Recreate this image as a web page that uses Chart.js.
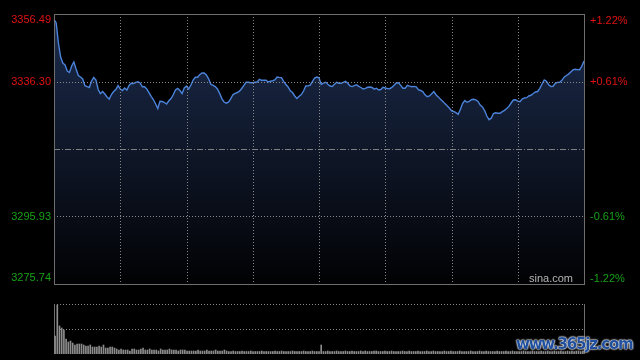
<!DOCTYPE html>
<html>
<head>
<meta charset="utf-8">
<script src="https://cdn.jsdelivr.net/npm/chart.js@4/dist/chart.umd.min.js"></script>
<style>
  html,body{margin:0;padding:0;background:#000;width:640px;height:360px;overflow:hidden;}
  #priceCv{position:absolute;left:0;top:0;}
  #volCv{position:absolute;left:0;top:290px;}
  #wm{position:absolute;left:516px;top:335px;font:bold 15px "DejaVu Sans",sans-serif;color:#1f4f9e;
      letter-spacing:-1.2px;text-shadow:0 0 2px #fff,0 0 2px #fff,0 0 1px #ddd;white-space:nowrap;}
</style>
</head>
<body>
<canvas id="priceCv" width="640" height="290"></canvas>
<canvas id="volCv" width="640" height="70"></canvas>
<div id="wm">www.365jz.com</div>
<script>
// ---- data ----
const preClose = 3316.115;
const yMin = 3275.74;
const yMax = 3356.49;
const leftTickValues = [3356.49, 3336.30, 3295.93, 3275.74];
const leftTickLabels = ["3356.49", "3336.30", "3295.93", "3275.74"];
const rightTickLabels = ["+1.22%", "+0.61%", "-0.61%", "-1.22%"];
const tickColors = ["#e01212", "#e01212", "#18a018", "#18a018"];
const gridMinuteIdx = [30, 60, 90, 120, 150, 180, 210];

const prices = [
3354.85,3353.80,3347.82,3343.63,3341.84,3341.24,3339.44,3339.00,3340.94,3342.14,
3340.04,3338.10,3337.65,3337.05,3335.05,3334.75,3334.51,3336.45,3337.50,3336.75,
3333.91,3332.71,3333.31,3332.56,3331.67,3331.07,3332.41,3333.31,3333.91,3335.05,
3334.06,3333.61,3334.36,3333.76,3335.11,3335.76,3335.70,3336.06,3336.24,3335.85,
3334.72,3334.72,3334.06,3332.98,3331.88,3330.92,3329.57,3328.23,
3330.38,3330.32,3330.02,3329.57,3330.53,3331.22,3332.33,3333.76,3334.24,3333.61,
3332.71,3334.36,3334.96,3334.06,3335.26,3336.75,3337.56,3337.59,3338.34,3338.85,
3338.85,3338.25,3337.11,3335.50,3335.14,3334.78,3334.06,3332.77,3331.19,3330.17,
3329.81,3330.14,3331.07,3332.33,3332.74,3333.01,3333.40,3334.21,3335.17,3336.06,
3336.06,3335.94,3335.94,3336.06,3336.15,3336.96,3336.66,3336.66,3336.69,
3336.15,3336.39,3336.54,3336.75,3337.65,3337.53,3337.47,3336.33,3335.38,3334.66,
3333.52,3333.01,3331.97,3331.22,3331.91,3332.38,3333.46,3334.96,3334.99,3335.20,
3336.27,3337.35,3337.65,3337.41,3335.41,3335.79,3336.09,3335.50,3334.96,3334.81,
3335.50,3336.06,3335.79,3335.76,3336.03,3336.36,3335.79,3334.96,3334.78,3335.08,
3335.29,3334.84,3334.51,3334.06,3334.27,3334.57,3334.66,3334.51,
3334.03,3334.30,3333.76,3333.91,3334.57,3334.36,3334.21,3334.15,3334.54,3335.20,
3335.85,3335.94,3335.14,3334.27,3334.27,3335.17,3334.90,3334.72,3334.84,3334.69,
3333.85,3333.61,3333.31,3332.33,3331.76,3331.97,3332.62,3333.31,3332.35,3331.70,
3331.01,3330.38,3329.69,3329.04,3328.38,3327.54,3327.33,3327.00,3326.46,3327.93,
3329.72,3330.62,3330.08,3330.32,3330.86,3330.98,3330.80,3330.35,
3329.27,3328.68,3327.60,3325.98,3324.88,3325.33,3326.73,3326.94,3326.79,3326.79,
3327.27,3327.66,3328.20,3328.86,3329.87,3330.77,3330.83,3330.41,3330.26,3331.04,
3331.37,3331.46,3331.97,3332.18,3332.71,3333.16,3333.31,3334.27,3335.56,3336.75,
3336.39,3335.35,3334.78,3334.87,3335.73,3336.03,3336.09,3336.66,3337.59,3338.10,
3338.52,3339.14,3339.77,3339.95,3339.86,3339.83,3340.85,3342.43
];

const volumes = [
36,98,56,52,48,30,24,26,22,18,20,20,20,18,16,16,18,14,14,14,16,14,18,12,12,14,14,12,10,8,
10,8,8,8,6,10,10,8,8,10,12,8,8,10,8,8,8,6,10,8,8,8,10,8,8,8,6,8,8,8,
6,6,6,6,6,8,6,6,6,8,6,6,6,8,6,6,6,8,6,5,5,6,5,5,5,6,5,5,5,6,
5,5,5,5,6,5,5,5,5,5,6,5,5,6,5,5,5,5,6,5,5,5,5,6,5,5,5,6,5,5,5,
18,
5,5,6,5,5,5,6,5,5,5,6,5,5,6,5,5,5,6,5,6,
5,5,5,6,6,5,5,5,6,5,5,6,5,5,5,5,6,5,5,6,
5,5,5,6,5,5,5,6,5,5,6,5,5,5,5,6,5,5,6,5,
5,5,6,5,5,5,5,6,5,5,5,6,5,5,6,5,5,5,5,6,
5,5,5,6,5,5,6,5,5,5,5,6,5,5,5,6,5,5,5,6,
5,5,6,5,5,6,5,5,6,5,5,6,5,6,5,6,6,5,6
];
const volMax = 100;

// minute labels 09:30-11:30, 13:01-15:00
function buildTimes(){
  const t = [];
  const pad = n => (n < 10 ? "0" : "") + n;
  for (let m = 9*60+30; m <= 11*60+30; m++) t.push(pad(Math.floor(m/60)) + ":" + pad(m%60));
  for (let m = 13*60+1; m <= 15*60; m++) t.push(pad(Math.floor(m/60)) + ":" + pad(m%60));
  return t;
}
const times = buildTimes();

const FONT = '11px "Liberation Sans", Arial, sans-serif';

const priceGrid = {
  id: 'priceGrid',
  afterDatasetsDraw(chart) {
    const {ctx, chartArea: a, scales: {x, y}} = chart;
    ctx.save();
    ctx.lineWidth = 1;
    ctx.strokeStyle = 'rgba(150,150,150,0.9)';
    ctx.setLineDash([1, 2]);
    [3336.30, 3295.93].forEach(v => {
      const py = Math.round(y.getPixelForValue(v)) + 0.5;
      ctx.beginPath(); ctx.moveTo(a.left, py); ctx.lineTo(a.right, py); ctx.stroke();
    });
    gridMinuteIdx.forEach(i => {
      const px = Math.round(x.getPixelForValue(i)) + 0.5;
      ctx.beginPath(); ctx.moveTo(px, a.top); ctx.lineTo(px, a.bottom); ctx.stroke();
    });
    // pre-close dash-dot line
    ctx.strokeStyle = 'rgba(140,140,140,0.9)';
    ctx.setLineDash([6, 2, 1, 2]);
    const pc = Math.round(y.getPixelForValue(preClose)) + 0.5;
    ctx.beginPath(); ctx.moveTo(a.left, pc); ctx.lineTo(a.right, pc); ctx.stroke();
    // border
    ctx.setLineDash([]);
    ctx.strokeStyle = '#6e6e6e';
    ctx.strokeRect(Math.round(a.left) + 0.5, Math.round(a.top) + 0.5,
                   Math.round(a.right - a.left), Math.round(a.bottom - a.top));
    // labels
    ctx.font = FONT;
    ctx.textBaseline = 'middle';
    leftTickValues.forEach((v, k) => {
      let py = y.getPixelForValue(v);
      if (k === 0) py += 6;
      if (k === leftTickValues.length - 1) py -= 6;
      ctx.fillStyle = tickColors[k];
      ctx.textAlign = 'right';
      ctx.fillText(leftTickLabels[k], a.left - 3, py);
      ctx.textAlign = 'left';
      ctx.fillText(rightTickLabels[k], a.right + 6, py + (k === 0 ? 1 : 0) + (k === 3 ? 1 : 0));
    });
    ctx.fillStyle = '#b4b4b4';
    ctx.textAlign = 'right';
    ctx.fillText('sina.com', a.right - 11, a.bottom - 5);
    ctx.restore();
  }
};

new Chart(document.getElementById('priceCv'), {
  type: 'line',
  data: {
    labels: times,
    datasets: [{
      data: prices,
      borderColor: '#4b83da',
      borderWidth: 1.4,
      pointRadius: 0,
      tension: 0,
      fill: 'start',
      backgroundColor: (c) => {
        const a = c.chart.chartArea;
        if (!a) return 'rgba(20,32,56,1)';
        const g = c.chart.ctx.createLinearGradient(0, a.top, 0, a.bottom);
        g.addColorStop(0, 'rgb(28,44,78)');
        g.addColorStop(0.45, 'rgb(16,25,44)');
        g.addColorStop(1, 'rgb(2,2,4)');
        return g;
      }
    }]
  },
  options: {
    responsive: false,
    animation: false,
    events: [],
    layout: {padding: {left: 54, right: 56, top: 14, bottom: 6}},
    plugins: {legend: {display: false}, tooltip: {enabled: false}},
    scales: {
      x: {display: false, offset: false},
      y: {display: false, min: yMin, max: yMax}
    }
  },
  plugins: [priceGrid]
});

const volGrid = {
  id: 'volGrid',
  beforeDatasetsDraw(chart) {
    const {ctx, chartArea: a, scales: {y}} = chart;
    ctx.save();
    ctx.lineWidth = 1;
    ctx.strokeStyle = 'rgba(150,150,150,0.9)';
    ctx.setLineDash([1, 2]);
    [volMax, volMax / 2].forEach(v => {
      const py = Math.round(y.getPixelForValue(v)) + 0.5;
      ctx.beginPath(); ctx.moveTo(a.left, py); ctx.lineTo(a.right, py); ctx.stroke();
    });
    ctx.setLineDash([]);
    ctx.strokeStyle = '#6e6e6e';
    [a.left, a.right].forEach(xx => {
      const px = Math.round(xx) + 0.5;
      ctx.beginPath(); ctx.moveTo(px, a.top); ctx.lineTo(px, a.bottom); ctx.stroke();
    });
    ctx.restore();
  }
};

new Chart(document.getElementById('volCv'), {
  type: 'bar',
  data: {
    labels: times,
    datasets: [{
      data: volumes,
      backgroundColor: '#8c8c8c',
      barThickness: 1,
      borderWidth: 0
    }]
  },
  options: {
    responsive: false,
    animation: false,
    events: [],
    layout: {padding: {left: 54, right: 56, top: 14, bottom: 6}},
    plugins: {legend: {display: false}, tooltip: {enabled: false}},
    scales: {
      x: {display: false, offset: true},
      y: {display: false, min: 0, max: volMax}
    }
  },
  plugins: [volGrid]
});
</script>
</body>
</html>
